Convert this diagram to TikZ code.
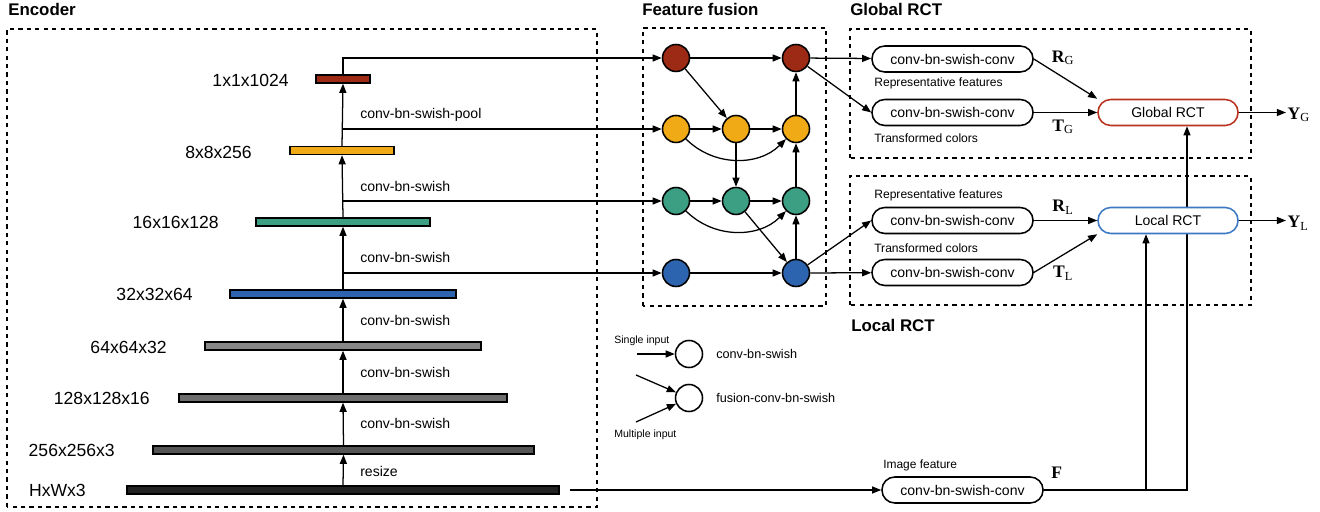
\documentclass[tikz,border=0pt]{standalone}
\usepackage{fontspec}
\setmainfont{Liberation Sans}
\newfontfamily\symserif{Liberation Serif}
\usetikzlibrary{arrows.meta,positioning,calc}
\definecolor{lvred}{HTML}{9C2A14}
\definecolor{lvorange}{HTML}{EFAA15}
\definecolor{lvgreen}{HTML}{3C9E82}
\definecolor{lvblue}{HTML}{2C64AF}
\definecolor{lvgrayA}{HTML}{888888}
\definecolor{lvgrayB}{HTML}{6E6E6E}
\definecolor{lvgrayC}{HTML}{555555}
\definecolor{lvblack}{HTML}{222222}
\definecolor{rctred}{HTML}{B8321E}
\definecolor{rctblue}{HTML}{3C78C4}

% bold serif symbol with roman subscript
\newcommand{\bsym}[2]{{\symserif\fontsize{12.5}{14}\selectfont\textbf{#1}\textsubscript{#2}}}

\begin{document}
\begin{tikzpicture}[
  x=0.025cm, y=0.025cm,
  >={Triangle[length=6.5pt,width=5pt]},
  arr/.style={->, line width=0.9pt},
  bar/.style={draw, line width=1pt, minimum height=0.2cm, inner sep=0pt},
  dimlbl/.style={anchor=east, inner sep=0pt, font=\fontsize{12.5}{14}\selectfont},
  oplbl/.style={anchor=west, inner sep=0pt, font=\fontsize{10}{12}\selectfont},
  fnode/.style={circle, draw, line width=1.1pt, minimum size=0.675cm, inner sep=0pt},
  pill/.style={draw, line width=1.1pt, rounded corners=0.32cm, fill=white, minimum width=4.025cm, minimum height=0.65cm, inner sep=0pt, font=\fontsize{10}{12}\selectfont},
  rct/.style={pill, minimum width=3.5cm},
  note/.style={anchor=west, inner sep=0pt, font=\fontsize{8.6}{10}\selectfont},
  frame/.style={dashed, line width=0.8pt},
  title/.style={anchor=west, inner sep=0pt, font=\fontsize{12}{14}\selectfont\bfseries},
]
\useasboundingbox (0,0) rectangle (1320,512);

% frames and titles
\draw[frame] (7,5) rectangle (597,483);
\draw[frame] (643,206) rectangle (826,484);
\draw[frame] (850,354) rectangle (1251,483);
\draw[frame] (850,207) rectangle (1251,336);
\node[title] (tenc) at (8,503) {Encoder};
\node[title] (tfus) at (642,503) {Feature fusion};
\node[title] (tglob) at (850,503) {Global RCT};
\node[title] (tloc) at (851,187) {Local RCT};

% encoder
\node[bar, fill=lvred, minimum width=1.35cm] (b1024) at (343,433) {};
\node[bar, fill=lvorange, minimum width=2.6cm] (b256) at (342,361.5) {};
\node[bar, fill=lvgreen, minimum width=4.35cm] (b128) at (343,290) {};
\node[bar, fill=lvblue, minimum width=5.65cm] (b64) at (343,218) {};
\node[bar, fill=lvgrayA, minimum width=6.9cm] (b32) at (343,166) {};
\node[bar, fill=lvgrayB, minimum width=8.2cm] (b16) at (343,114) {};
\node[bar, fill=lvgrayC, minimum width=9.525cm] (b3) at (343.5,62) {};
\node[bar, fill=lvblack, minimum width=10.8cm] (bin) at (343,22) {};

\node[dimlbl] (l1024) at (289,432) {1x1x1024};
\node[dimlbl] (l256) at (252,360) {8x8x256};
\node[dimlbl] (l128) at (219,290) {16x16x128};
\node[dimlbl] (l64) at (193,218) {32x32x64};
\node[dimlbl] (l32) at (167,165) {64x64x32};
\node[dimlbl] (l16) at (150,114) {128x128x16};
\node[dimlbl] (l3) at (115,62) {256x256x3};
\node[dimlbl] (lin) at (86,22) {HxWx3};

\node[oplbl] (o1) at (360,397) {conv-bn-swish-pool};
\node[oplbl] (o2) at (360,326) {conv-bn-swish};
\node[oplbl] (o3) at (360,255) {conv-bn-swish};
\node[oplbl] (o4) at (360,192) {conv-bn-swish};
\node[oplbl] (o5) at (360,140) {conv-bn-swish};
\node[oplbl] (o6) at (360,89) {conv-bn-swish};
\node[oplbl] (o7) at (360,41) {resize};

\draw[arr] (bin.north) -- (b3.south);
\draw[arr] (b3.north) -- (b16.south);
\draw[arr] (b16.north) -- (b32.south);
\draw[arr] (b32.north) -- (b64.south);
\draw[arr] (b64.north) -- (b128.south);
\draw[arr] (b128.north) -- (b256.south);
\draw[arr] (b256.north) -- (b1024.south);

% feature fusion
\node[fnode, fill=lvred] (rd1) at (676,454) {};
\node[fnode, fill=lvred] (rd3) at (796,454) {};
\node[fnode, fill=lvorange] (or1) at (676,383) {};
\node[fnode, fill=lvorange] (or2) at (736,383) {};
\node[fnode, fill=lvorange] (or3) at (796,383) {};
\node[fnode, fill=lvgreen] (gr1) at (676,311) {};
\node[fnode, fill=lvgreen] (gr2) at (736,311) {};
\node[fnode, fill=lvgreen] (gr3) at (796,311) {};
\node[fnode, fill=lvblue] (bl1) at (676,239) {};
\node[fnode, fill=lvblue] (bl3) at (796,239) {};

\draw[arr] (b1024.north) |- (rd1);
\draw[arr] (b256.north |- or1) -- (or1);
\draw[arr] (b128.north |- gr1) -- (gr1);
\draw[arr] (b64.north |- bl1) -- (bl1);

\draw[arr] (rd1) -- (rd3);
\draw[arr] (rd1) -- (or2);
\draw[arr] (or1) -- (or2);
\draw[arr] (or2) -- (or3);
\draw[arr] (or1) to[bend right=45] (or3);
\draw[arr] (or2) -- (gr2);
\draw[arr] (gr1) -- (gr2);
\draw[arr] (gr2) -- (gr3);
\draw[arr] (gr1) to[bend right=45] (gr3);
\draw[arr] (gr2) -- (bl3);
\draw[arr] (bl1) -- (bl3);
\draw[arr] (bl3) -- (gr3);
\draw[arr] (gr3) -- (or3);
\draw[arr] (or3) -- (rd3);

% global RCT
\node[pill] (gconv1) at (952.5,453) {conv-bn-swish-conv};
\node[pill] (gconv2) at (952.5,399.5) {conv-bn-swish-conv};
\node[note] (grep) at (874,429) {Representative features};
\node[note] (gtrans) at (874,374) {Transformed colors};
\node[rct, draw=rctred] (gRCT) at (1168,399.5) {Global RCT};
\node (rg) at (1063,454) {\bsym{R}{G}};
\node (tg) at (1063,385) {\bsym{T}{G}};
\node[anchor=west, inner sep=1pt] (yg) at (1286,397) {\bsym{Y}{G}};

\draw[arr] (rd3) -- (gconv1);
\draw[arr] (rd3) -- (gconv2.west);
\draw[arr] (gconv1.east) -- (gRCT.north west);
\draw[arr] (gconv2) -- (gRCT);
\draw[arr] (gRCT) -- (gRCT -| yg.west);

% image feature
\node[pill] (iconv) at (962.5,22) {conv-bn-swish-conv};
\node[anchor=west, inner sep=0pt, font=\fontsize{8.5}{10}\selectfont] (ifeat) at (883,47) {Image feature};
\node (fl) at (1057,38) {\bsym{F}{}};
\coordinate (gin) at ([xshift=0.475cm]gRCT.south);
\draw[arr] ([xshift=0.25cm]bin.east) -- (iconv);
\draw[arr] (iconv.east) -| (gin);

% local RCT
\node[pill] (lconv1) at (952.5,291.5) {conv-bn-swish-conv};
\node[pill] (lconv2) at (952.5,239.5) {conv-bn-swish-conv};
\node[note] (lrep) at (874,317) {Representative features};
\node[note] (ltrans) at (874,264) {Transformed colors};
\node[rct, draw=rctblue] (lRCT) at (1168,291.5) {Local RCT};
\node (rl) at (1063,305) {\bsym{R}{L}};
\node (tl) at (1063,239) {\bsym{T}{L}};
\node[anchor=west, inner sep=1pt] (yl) at (1286,289) {\bsym{Y}{L}};
\coordinate (lfin) at ([xshift=-0.55cm]lRCT.south);

\draw[arr] (bl3) -- (lconv1.west);
\draw[arr] (bl3) -- (lconv2);
\draw[arr] (lconv1) -- (lRCT);
\draw[arr] (lconv2.east) -- (lRCT.south west);
\draw[arr] (lRCT) -- (lRCT -| yl.west);
\draw[arr] (lfin |- iconv.east) -- (lfin);

% legend
\node[fnode] (lg1) at (689,158) {};
\node[fnode] (lg2) at (689,114) {};
\node[anchor=west, inner sep=0pt, font=\fontsize{7.5}{9}\selectfont] (lsingle) at (614,171) {Single input};
\node[anchor=west, inner sep=0pt, font=\fontsize{7.5}{9}\selectfont] (lmulti) at (614,77) {Multiple input};
\node[anchor=west, inner sep=0pt, font=\fontsize{9}{11}\selectfont] (lgt1) at (716,158) {conv-bn-swish};
\node[anchor=west, inner sep=0pt, font=\fontsize{9}{11}\selectfont] (lgt2) at (716,114) {fusion-conv-bn-swish};
\coordinate (sin) at (637,158);
\coordinate (min1) at (636,137);
\coordinate (min2) at (636,90);
\draw[arr] (sin) -- (lg1);
\draw[arr] (min1) -- (lg2);
\draw[arr] (min2) -- (lg2);

\end{tikzpicture}
\end{document}
